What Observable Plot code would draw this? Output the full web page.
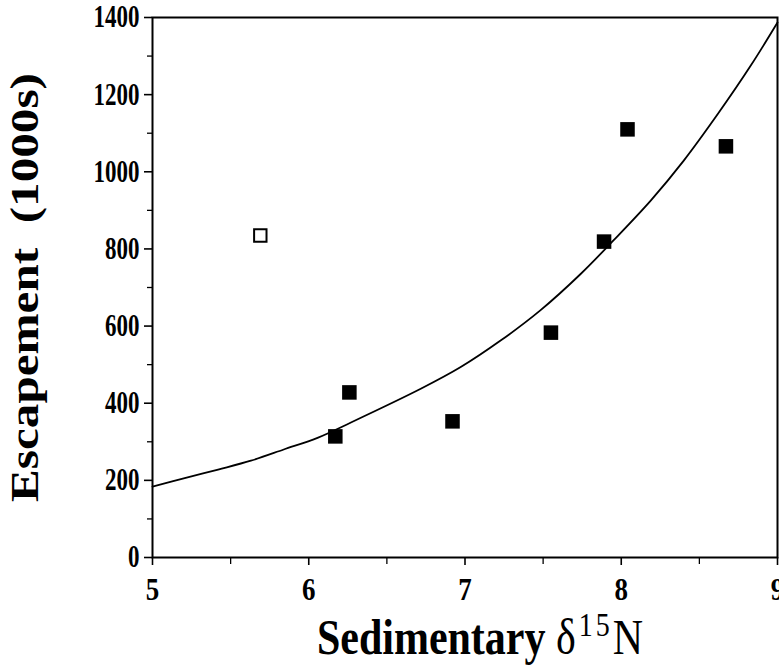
<!DOCTYPE html>
<html>
<head>
<meta charset="utf-8">
<script src="https://cdn.jsdelivr.net/npm/d3@7"></script>
<script src="https://cdn.jsdelivr.net/npm/@observablehq/plot@0.6"></script>
<style>
  html, body { margin: 0; padding: 0; background: #fff; }
</style>
</head>
<body>
<div id="chart"></div>
<script>
// Tick values
const xTicks = [5, 6, 7, 8, 9];
const xMinorTicks = [5.5, 6.5, 7.5, 8.5];
const yTicks = [0, 200, 400, 600, 800, 1000, 1200, 1400];
const yMinorTicks = [100, 300, 500, 700, 900, 1100, 1300];

// Filled squares (δ15N, escapement in 1000s)
const filledX = [6.17, 6.26, 6.92, 7.55, 7.89, 8.04, 8.67];
const filledY = [314, 428, 353, 583, 819, 1110, 1066];

// Open square (outlier)
const openX = [5.69];
const openY = [835];

// Fitted curve
const curveX = [5.0, 5.2, 5.42, 5.63, 5.84, 6.06, 6.27, 6.72, 6.97, 7.23, 7.48, 7.74, 7.95, 8.19, 8.40, 8.62, 8.83, 9.0];
const curveY = [184, 205, 228, 251, 280, 311, 350, 438, 493, 563, 640, 735, 822, 926, 1029, 1151, 1276, 1387];

const filled = filledX.map((x, i) => ({x, y: filledY[i]}));
const open = openX.map((x, i) => ({x, y: openY[i]}));
const curve = curveX.map((x, i) => ({x, y: curveY[i]}));

const xLabel = "Sedimentary δ15N";
const yLabel = "Escapement  (1000s)";

const chart = Plot.plot({
  width: 779,
  height: 667,
  marginLeft: 152,
  marginRight: 2,
  marginTop: 17,
  marginBottom: 110,
  style: {fontFamily: "'Liberation Serif', 'Times New Roman', serif", fontWeight: "bold", fontSize: "23px", color: "black", background: "white"},
  x: {domain: [5, 9]},
  y: {domain: [0, 1400]},
  marks: [
    Plot.axisX(xTicks, {tickSize: 8, tickPadding: 11, strokeWidth: 1.6, label: null, tickFormat: d => String(d)}),
    Plot.axisX(xMinorTicks, {tickSize: 7, strokeWidth: 1.3, label: null, tickFormat: () => ""}),
    Plot.axisY(yTicks, {tickSize: 8, tickPadding: 5, strokeWidth: 1.6, label: null, tickFormat: d => String(d)}),
    Plot.axisY(yMinorTicks, {tickSize: 5, strokeWidth: 1.3, label: null, tickFormat: () => ""}),
    Plot.frame({stroke: "black", strokeWidth: 2}),
    Plot.line(curve, {x: "x", y: "y", curve: "catmull-rom", stroke: "black", strokeWidth: 1.8}),
    Plot.dot(filled, {x: "x", y: "y", symbol: "square", r: 8.2, fill: "black", stroke: "none"}),
    Plot.dot(open, {x: "x", y: "y", symbol: "square", r: 7, fill: "white", stroke: "black", strokeWidth: 2}),
    Plot.text([xLabel], {frameAnchor: "bottom", textAnchor: "middle", dx: 15, dy: 96, lineAnchor: "bottom", fontSize: 42, text: d => d}),
    Plot.text([yLabel], {frameAnchor: "left", textAnchor: "middle", dx: -128, rotate: -90, fontSize: 41, text: d => d})
  ]
});

document.getElementById("chart").appendChild(chart);

const svg = d3.select(chart);
svg.selectAll("text").each(function() {
  const el = d3.select(this);
  const txt = this.textContent;
  const isLabel = txt === xLabel || txt === yLabel;
  const isXTick = xTicks.map(String).includes(txt);
  const isYTick = yTicks.map(String).includes(txt);
  if (isXTick) el.attr("font-size", 27);
  if (isYTick) el.attr("font-size", 23);
  const S = isLabel ? 1.2 : isXTick ? 1.2 : 1.35;
  const t = el.attr("transform");
  if (t && t.includes("rotate")) {
    el.attr("transform", t + ` scale(${S},1)`);
  } else if (t) {
    el.attr("transform", t + ` scale(1,${S})`);
  } else {
    const x = +el.attr("x") || 0, y = +el.attr("y") || 0;
    el.attr("transform", `translate(${x},${y}) scale(1,${S}) translate(${-x},${-y})`);
  }
  if (txt === xLabel) {
    el.text(null);
    el.append("tspan").text("Sedimentary ");
    el.append("tspan").attr("font-weight", "normal").text("δ");
    el.append("tspan").attr("font-weight", "normal").attr("font-size", "28").attr("letter-spacing", "3").attr("dx", "3").attr("dy", "-15").text("15");
    el.append("tspan").attr("font-weight", "normal").attr("dy", "15").text("N");
  }
});
</script>
</body>
</html>
